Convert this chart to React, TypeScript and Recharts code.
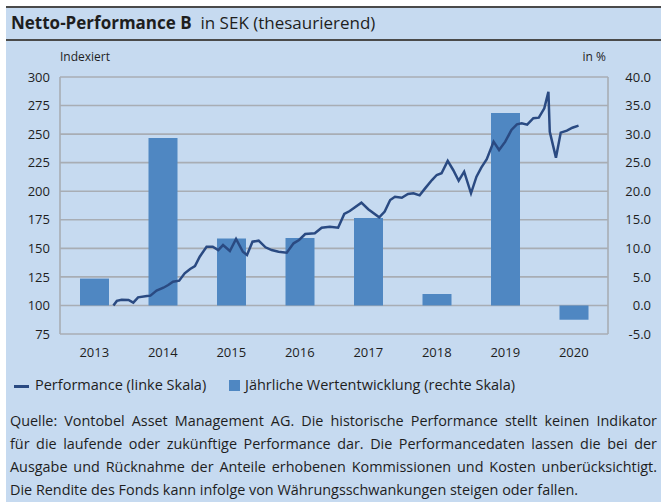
import React from "react";
import {
  ComposedChart,
  Bar,
  Line,
  XAxis,
  YAxis,
  CartesianGrid,
} from "recharts";

const years = [2013, 2014, 2015, 2016, 2017, 2018, 2019, 2020];
const annualReturns = [4.7, 29.3, 11.7, 11.8, 15.3, 2.0, 33.7, -2.5];

const lineDates = [
  2013.78, 2013.83, 2013.9, 2014.0, 2014.07, 2014.14, 2014.27, 2014.32, 2014.41,
  2014.51, 2014.58, 2014.65, 2014.74, 2014.82, 2014.9, 2014.97, 2015.04, 2015.14,
  2015.23, 2015.31, 2015.38, 2015.48, 2015.57, 2015.67, 2015.73, 2015.81, 2015.9,
  2016.0, 2016.09, 2016.19, 2016.31, 2016.41, 2016.49, 2016.58, 2016.72, 2016.82,
  2016.94, 2017.06, 2017.15, 2017.23, 2017.4, 2017.5, 2017.66, 2017.74, 2017.82,
  2017.89, 2017.99, 2018.08, 2018.16, 2018.25, 2018.33, 2018.43, 2018.5, 2018.57,
  2018.66, 2018.74, 2018.82, 2018.9, 2019.0, 2019.08, 2019.15, 2019.23, 2019.33,
  2019.41, 2019.5, 2019.59, 2019.67, 2019.74, 2019.82, 2019.91, 2019.99, 2020.07,
  2020.13, 2020.15, 2020.24, 2020.31, 2020.4, 2020.48, 2020.57,
];
const lineValues = [
  100, 104, 105, 104.8, 102.4, 107.1, 108.3, 108.6, 113,
  115.5, 117.9, 120.8, 121.7, 128.1, 131.9, 134.5, 142.7, 151.4,
  151.4, 148.5, 152.9, 147.7, 158.2, 147, 144.2, 155.8, 156.7,
  150.9, 148.5, 147.1, 146.2, 154.4, 157.3, 162.5, 163.2, 168.1,
  168.9, 168.1, 180.1, 182.7, 190, 184.2, 177.2, 182.2, 192.3,
  195.2, 194.3, 197.6, 198.2, 196.4, 202.5, 209.8, 214.2, 215.7,
  226.5, 218.6, 209.2, 217.1, 198.2, 212.7, 220.6, 228, 243.4,
  236.1, 243.4, 253.6, 258.6, 259.5, 258.3, 263.9, 264.4, 272.6,
  287.1, 252.1, 229.4, 251.3, 253, 255.6, 257.4,
];

const leftTicks = [75, 100, 125, 150, 175, 200, 225, 250, 275, 300];
const rightTicks = [-5, 0, 5, 10, 15, 20, 25, 30, 35, 40];
const yearLabelTicks = years.map((y) => y + 0.5);
const yearBoundaries = [...years, 2021];

const footerLines = [
  "Quelle: Vontobel Asset Management AG. Die historische Performance stellt keinen Indikator",
  "für die laufende oder zukünftige Performance dar. Die Performancedaten lassen die bei der",
  "Ausgabe und Rücknahme der Anteile erhobenen Kommissionen und Kosten unberücksichtigt.",
  "Die Rendite des Fonds kann infolge von Währungsschwankungen steigen oder fallen.",
];

const barRows = years.map((y, i) => ({ t: y + 0.5, ret: annualReturns[i] }));
const lineRows = lineDates.map((t, i) => ({ t, perf: lineValues[i] }));

const FONT = "'Open Sans', 'Noto Sans', sans-serif";
const BG = "#c6daf0";
const BAR = "#4f87c2";
const LINE = "#2a4a82";
const GRID = "#a8adb4";
const TEXT = "#1e1e1e";

const RightTick = (props: any) => {
  const { x, y, payload } = props;
  return (
    <text
      x={x + 35}
      y={y}
      dy="0.355em"
      textAnchor="end"
      fontSize={13}
      fill={TEXT}
      fontFamily={FONT}
    >
      {Number(payload.value).toFixed(1)}
    </text>
  );
};

export default function App() {
  return (
    <div
      style={{
        position: "absolute",
        left: 0,
        top: 0,
        width: 661,
        height: 502,
        background: "#ffffff",
        fontFamily: FONT,
        color: TEXT,
        overflow: "hidden",
      }}
    >
      <div
        style={{
          position: "absolute",
          left: 6,
          top: 7,
          right: 0,
          bottom: 0,
          background: BG,
        }}
      />
      <div
        style={{
          position: "absolute",
          left: 6,
          top: 6,
          right: 0,
          height: 2,
          background: "#4a4a4a",
        }}
      />
      <div
        style={{
          position: "absolute",
          left: 6,
          top: 39,
          right: 0,
          height: 2,
          background: "#4a4a4a",
        }}
      />
      <div
        style={{
          position: "absolute",
          left: 11,
          top: 9,
          fontSize: 17,
          lineHeight: "28px",
          whiteSpace: "nowrap",
        }}
      >
        <span style={{ fontWeight: 700 }}>Netto-Performance B</span>
        <span>&nbsp; in SEK (thesaurierend)</span>
      </div>
      <div
        style={{
          position: "absolute",
          left: 60,
          top: 48,
          fontSize: 12,
          lineHeight: "18px",
        }}
      >
        Indexiert
      </div>
      <div
        style={{
          position: "absolute",
          right: 55,
          top: 48,
          fontSize: 12,
          lineHeight: "18px",
        }}
      >
        in %
      </div>

      <div style={{ position: "absolute", left: 0, top: 0 }}>
        <ComposedChart
          width={661}
          height={370}
          data={barRows}
          margin={{ top: 77, right: 3, left: 10, bottom: 6 }}
        >
          <XAxis
            xAxisId="g"
            orientation="top"
            type="number"
            dataKey="t"
            domain={[2013, 2021]}
            ticks={yearBoundaries}
            tick={false}
            axisLine={false}
            tickLine={false}
            height={0}
            allowDataOverflow
          />
          <XAxis
            xAxisId="x"
            type="number"
            dataKey="t"
            domain={[2013, 2021]}
            ticks={yearLabelTicks}
            tickFormatter={(v: number) => String(Math.floor(v))}
            axisLine={false}
            tickLine={false}
            tickSize={6}
            tickMargin={8}
            height={30}
            interval={0}
            allowDataOverflow
            tick={{ fontSize: 13, fill: TEXT, fontFamily: FONT }}
          />
          <YAxis
            yAxisId="l"
            orientation="left"
            domain={[75, 300]}
            ticks={leftTicks}
            interval={0}
            width={50}
            axisLine={false}
            tickLine={false}
            tickSize={6}
            tickMargin={4}
            allowDataOverflow
            tick={{ fontSize: 13, fill: TEXT, fontFamily: FONT }}
          />
          <YAxis
            yAxisId="r"
            orientation="right"
            domain={[-5, 40]}
            ticks={rightTicks}
            interval={0}
            width={50}
            axisLine={false}
            tickLine={false}
            tickSize={6}
            tickMargin={2}
            allowDataOverflow
            tick={<RightTick />}
          />
          <CartesianGrid
            xAxisId="g"
            yAxisId="l"
            stroke={GRID}
            strokeWidth={1.6}
          />
          <Bar
            xAxisId="x"
            yAxisId="r"
            dataKey="ret"
            fill={BAR}
            barSize={29}
            isAnimationActive={false}
          />
          <Line
            xAxisId="g"
            yAxisId="l"
            data={lineRows}
            dataKey="perf"
            stroke={LINE}
            strokeWidth={2.5}
            dot={false}
            type="linear"
            isAnimationActive={false}
          />
        </ComposedChart>
      </div>

      <div
        style={{
          position: "absolute",
          left: 14,
          top: 385,
          width: 15,
          height: 2.5,
          background: LINE,
        }}
      />
      <div
        style={{
          position: "absolute",
          left: 35,
          top: 374,
          fontSize: 14.5,
          lineHeight: "22px",
          whiteSpace: "nowrap",
        }}
      >
        Performance (linke Skala)
      </div>
      <div
        style={{
          position: "absolute",
          left: 229,
          top: 380,
          width: 11,
          height: 11,
          background: BAR,
        }}
      />
      <div
        style={{
          position: "absolute",
          left: 245,
          top: 374,
          fontSize: 14.5,
          lineHeight: "22px",
          whiteSpace: "nowrap",
        }}
      >
        Jährliche Wertentwicklung (rechte Skala)
      </div>

      <div
        style={{
          position: "absolute",
          left: 10,
          top: 409,
          width: 647,
          fontSize: 14.4,
          lineHeight: "23px",
        }}
      >
        {footerLines.map((line, i) => (
          <div
            key={i}
            style={{
              whiteSpace: "nowrap",
              textAlign: "justify",
              textAlignLast: i < footerLines.length - 1 ? "justify" : "left",
            }}
          >
            {line}
          </div>
        ))}
      </div>
    </div>
  );
}
